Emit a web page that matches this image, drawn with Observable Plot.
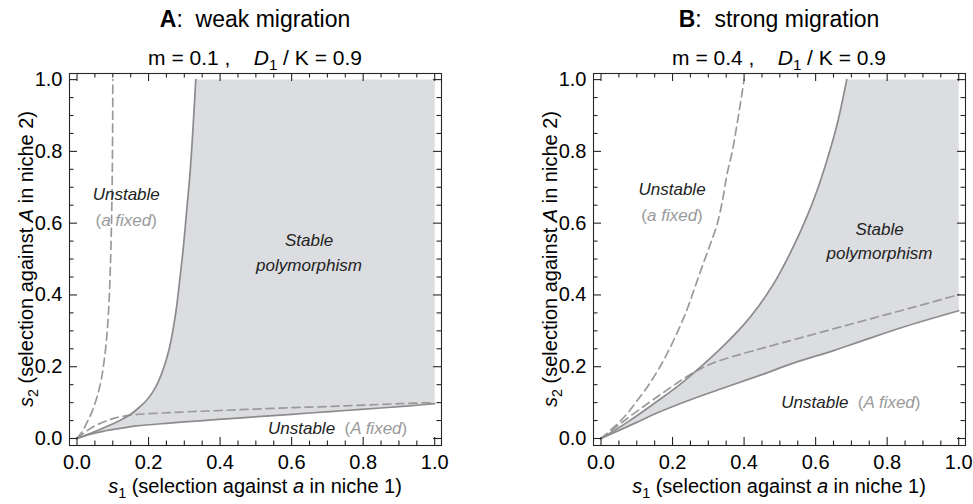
<!DOCTYPE html>
<html><head><meta charset="utf-8">
<script src="https://cdn.jsdelivr.net/npm/d3@7"></script>
<script src="https://cdn.jsdelivr.net/npm/@observablehq/plot@0.6"></script>
<style>
body{margin:0;background:#fff;}
#wrap{display:flex;width:973px;height:504px;overflow:hidden;}
</style></head><body><div id="wrap"></div>
<script>
// ---- tick values ----
const majorTicks = [0, 0.2, 0.4, 0.6, 0.8, 1.0];
const minorTicks = [0.05,0.1,0.15,0.25,0.3,0.35,0.45,0.5,0.55,0.65,0.7,0.75,0.85,0.9,0.95];

// ---- Panel A (m = 0.1) ----
const aUpperS1 = [0, 0.04, 0.08, 0.115, 0.148, 0.172, 0.194, 0.212, 0.228, 0.245, 0.259, 0.276, 0.287, 0.298, 0.307, 0.316, 0.324, 0.332];
const aUpperS2 = [0, 0.015, 0.032, 0.048, 0.066, 0.085, 0.106, 0.13, 0.16, 0.205, 0.255, 0.35, 0.44, 0.54, 0.64, 0.74, 0.86, 1.0];
const aLowerS1 = [0, 0.03, 0.073, 0.12, 0.166, 0.259, 0.352, 0.45, 0.538, 0.65, 0.75, 0.85, 0.93, 1.0];
const aLowerS2 = [0, 0.010, 0.020, 0.028, 0.035, 0.043, 0.050, 0.057, 0.063, 0.071, 0.078, 0.085, 0.091, 0.097];
const aDashLowS1 = [0, 0.02, 0.05, 0.08, 0.11, 0.148, 0.2, 0.3, 0.4, 0.5, 0.6, 0.7, 0.8, 0.9, 1.0];
const aDashLowS2 = [0, 0.016, 0.035, 0.048, 0.058, 0.065, 0.069, 0.074, 0.078, 0.082, 0.086, 0.089, 0.093, 0.097, 0.100];
const aDashHighS1 = [0, 0.015, 0.028, 0.04, 0.051, 0.06, 0.068, 0.075, 0.081, 0.086, 0.09, 0.093, 0.0955, 0.0975, 0.099, 0.0998, 0.1];
const aDashHighS2 = [0, 0.02, 0.045, 0.07, 0.1, 0.13, 0.165, 0.21, 0.26, 0.32, 0.39, 0.47, 0.56, 0.66, 0.78, 0.9, 1.0];

// ---- Panel B (m = 0.4) ----
const bUpperS1 = [0, 0.073, 0.166, 0.23, 0.287, 0.34, 0.398, 0.44, 0.482, 0.51, 0.538, 0.57, 0.6, 0.63, 0.66, 0.687];
const bUpperS2 = [0, 0.045, 0.11, 0.158, 0.207, 0.256, 0.316, 0.368, 0.43, 0.48, 0.535, 0.605, 0.68, 0.77, 0.875, 1.0];
const bLowerS1 = [0, 0.1, 0.166, 0.25, 0.352, 0.45, 0.538, 0.65, 0.724, 0.85, 1.0];
const bLowerS2 = [0, 0.045, 0.075, 0.108, 0.144, 0.178, 0.21, 0.245, 0.27, 0.312, 0.356];
const bDashLowS1 = [0, 0.055, 0.12, 0.18, 0.23, 0.27, 0.31, 0.36, 0.42, 0.5, 0.6, 0.7, 0.8, 0.9, 1.0];
const bDashLowS2 = [0, 0.042, 0.09, 0.132, 0.166, 0.19, 0.209, 0.226, 0.243, 0.265, 0.292, 0.319, 0.346, 0.373, 0.401];
const bDashHighS1 = [0, 0.04, 0.073, 0.1, 0.129, 0.158, 0.185, 0.213, 0.24, 0.262, 0.285, 0.305, 0.324, 0.34, 0.352, 0.367, 0.38, 0.39, 0.4];
const bDashHighS2 = [0, 0.035, 0.069, 0.104, 0.143, 0.188, 0.237, 0.295, 0.358, 0.42, 0.485, 0.54, 0.595, 0.665, 0.735, 0.8, 0.874, 0.935, 1.0];

const FONT = "'Liberation Sans', Arial, Helvetica, sans-serif";
const INK = "#262626";
const GRAY_LINE = "#8c8c8c";
const GRAY_DASH = "#9a9a9a";
const SHADE = "#dcdde0";
const GRAY_TEXT = "#9a9a9a";
const NB = "\u00a0";

const pts = (xs, ys) => xs.map((x, i) => ({x, y: ys[i]}));

function addText(svg, x, y, parts, {anchor = "middle", size = 17, rotate = null} = {}) {
  const t = d3.select(svg).append("text")
    .attr("x", x).attr("y", y)
    .attr("text-anchor", anchor)
    .attr("font-family", FONT)
    .attr("font-size", size)
    .attr("fill", "currentColor");
  if (rotate !== null) t.attr("transform", `rotate(${rotate},${x},${y})`);
  let shift = 0;
  for (const p of parts) {
    const s = t.append("tspan").text(p.t);
    if (p.italic) s.attr("font-style", "italic");
    if (p.bold) s.attr("font-weight", "bold");
    if (p.fill) s.attr("fill", p.fill);
    if (p.sub) {
      s.attr("font-size", size * 0.72).attr("dy", size * 0.25 - shift);
      shift = size * 0.25;
    } else if (shift) {
      s.attr("dy", -shift);
      shift = 0;
    }
  }
  return t;
}

function makePanel(p) {
  const upper = pts(p.upperS1, p.upperS2);
  const lower = pts(p.lowerS1, p.lowerS2);
  const region = [...upper, {x: 1, y: 1}, ...lower.slice().reverse()];
  const plotW = 372, plotH = 372, mt = 73, mb = 59;
  const xd = [-0.021, 1.019], yd = [-0.0195, 1.017];
  const kx = plotW / (xd[1] - xd[0]), ky = plotH / (yd[1] - yd[0]);
  const TK = 8, tk = 4.5;
  const tickOpts = {stroke: INK, strokeWidth: 1.1};
  const lineStyle = {x: "x", y: "y", curve: "catmull-rom", strokeWidth: 1.7};
  const chart = Plot.plot({
    width: p.width, height: 504,
    marginLeft: p.ml, marginRight: p.width - p.ml - plotW,
    marginTop: mt, marginBottom: mb,
    x: {domain: xd},
    y: {domain: yd},
    style: "background: white;",
    marks: [
      Plot.line(region, {x: "x", y: "y", fill: SHADE, stroke: "none"}),
      Plot.line(pts(p.dashHighS1, p.dashHighS2), {...lineStyle, stroke: GRAY_DASH, strokeDasharray: "8,5"}),
      Plot.line(pts(p.dashLowS1, p.dashLowS2), {...lineStyle, stroke: GRAY_DASH, strokeDasharray: "8,5"}),
      Plot.line(upper, {...lineStyle, stroke: GRAY_LINE}),
      Plot.line(lower, {...lineStyle, stroke: GRAY_LINE}),
      Plot.frame({stroke: INK, strokeWidth: 1.1}),
      // inward ticks on all four sides
      Plot.ruleX(majorTicks, {x: d => d, y1: yd[0], y2: yd[0] + TK / ky, ...tickOpts}),
      Plot.ruleX(minorTicks, {x: d => d, y1: yd[0], y2: yd[0] + tk / ky, ...tickOpts}),
      Plot.ruleX(majorTicks, {x: d => d, y1: yd[1], y2: yd[1] - TK / ky, ...tickOpts}),
      Plot.ruleX(minorTicks, {x: d => d, y1: yd[1], y2: yd[1] - tk / ky, ...tickOpts}),
      Plot.ruleY(majorTicks, {y: d => d, x1: xd[0], x2: xd[0] + TK / kx, ...tickOpts}),
      Plot.ruleY(minorTicks, {y: d => d, x1: xd[0], x2: xd[0] + tk / kx, ...tickOpts}),
      Plot.ruleY(majorTicks, {y: d => d, x1: xd[1], x2: xd[1] - TK / kx, ...tickOpts}),
      Plot.ruleY(minorTicks, {y: d => d, x1: xd[1], x2: xd[1] - tk / kx, ...tickOpts}),
      Plot.axisX({ticks: majorTicks, tickSize: 0, tickPadding: 9, tickFormat: d3.format(".1f"), fontSize: 20, fontFamily: FONT, label: null}),
      Plot.axisY({ticks: majorTicks, tickSize: 0, tickPadding: 7, tickFormat: d3.format(".1f"), fontSize: 20, fontFamily: FONT, label: null})
    ]
  });
  const sx = chart.scale("x"), sy = chart.scale("y");
  const cx = p.ml + plotW / 2;
  const cy = mt + plotH / 2;
  addText(chart, cx, 27, [{t: p.letter, bold: true}, {t: ":" + NB + NB + p.title}], {size: 23});
  addText(chart, cx, 65, [{t: "m = " + p.m + NB + "," + NB + NB + NB + NB}, {t: "D", italic: true}, {t: "1", sub: true}, {t: " / K = 0.9"}], {size: 21});
  addText(chart, cx, 493, [{t: "s", italic: true}, {t: "1", sub: true}, {t: " (selection against "}, {t: "a", italic: true}, {t: " in niche 1)"}], {size: 20});
  addText(chart, p.ml - 36, cy, [{t: "s", italic: true}, {t: "2", sub: true}, {t: " (selection against "}, {t: "A", italic: true}, {t: " in niche 2)"}], {size: 20, rotate: -90});
  const L = p.labels;
  addText(chart, sx.apply(L.unstA[0]), sy.apply(L.unstA[1]), [{t: "Unstable", italic: true, fill: "#222"}], {size: 17});
  addText(chart, sx.apply(L.fixA[0]), sy.apply(L.fixA[1]), [{t: "(", fill: GRAY_TEXT}, {t: "a fixed", italic: true, fill: GRAY_TEXT}, {t: ")", fill: GRAY_TEXT}], {size: 17});
  addText(chart, sx.apply(L.stable[0]), sy.apply(L.stable[1]), [{t: "Stable", italic: true, fill: "#222"}], {size: 17});
  addText(chart, sx.apply(L.poly[0]), sy.apply(L.poly[1]), [{t: "polymorphism", italic: true, fill: "#222"}], {size: 17});
  addText(chart, sx.apply(L.unstB[0]), sy.apply(L.unstB[1]), [{t: "Unstable", italic: true, fill: "#222"}, {t: NB + NB + "(", fill: GRAY_TEXT}, {t: "A fixed", italic: true, fill: GRAY_TEXT}, {t: ")", fill: GRAY_TEXT}], {size: 17});
  return chart;
}

const wrap = document.getElementById("wrap");
wrap.appendChild(makePanel({
  width: 486, ml: 69, letter: "A", title: "weak migration", m: "0.1",
  upperS1: aUpperS1, upperS2: aUpperS2, lowerS1: aLowerS1, lowerS2: aLowerS2,
  dashLowS1: aDashLowS1, dashLowS2: aDashLowS2, dashHighS1: aDashHighS1, dashHighS2: aDashHighS2,
  labels: {unstA: [0.139, 0.663], fixA: [0.139, 0.59], stable: [0.65, 0.536], poly: [0.65, 0.465], unstB: [0.73, 0.011]}
}));
wrap.appendChild(makePanel({
  width: 487, ml: 107, letter: "B", title: "strong migration", m: "0.4",
  upperS1: bUpperS1, upperS2: bUpperS2, lowerS1: bLowerS1, lowerS2: bLowerS2,
  dashLowS1: bDashLowS1, dashLowS2: bDashLowS2, dashHighS1: bDashHighS1, dashHighS2: bDashHighS2,
  labels: {unstA: [0.2, 0.676], fixA: [0.2, 0.606], stable: [0.78, 0.567], poly: [0.78, 0.5], unstB: [0.7, 0.083]}
}));
</script></body></html>
